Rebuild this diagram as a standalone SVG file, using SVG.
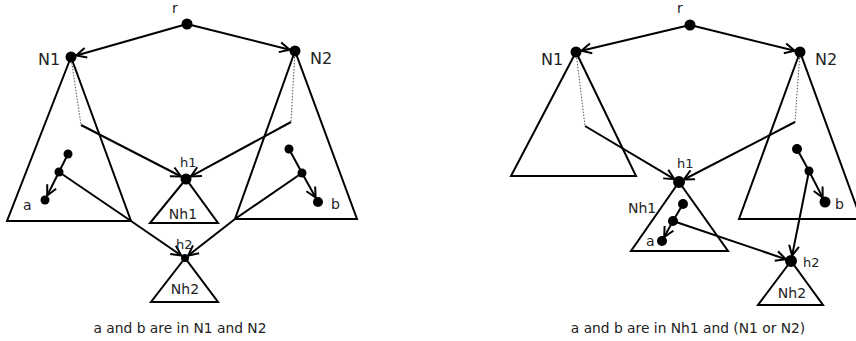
<svg xmlns="http://www.w3.org/2000/svg" width="856" height="341" viewBox="0 0 856 341">
<style>
.t{fill:none;stroke:#000;stroke-width:2;stroke-linejoin:miter}
.e{fill:none;stroke:#000;stroke-width:2}
.a{fill:none;stroke:#000;stroke-width:2;marker-end:url(#arr)}
.d{fill:none;stroke:#555;stroke-width:1;stroke-dasharray:1.5,1.5}
.n{fill:#000}
text{font-family:"DejaVu Sans","Liberation Sans",sans-serif;fill:#222}
.L{font-size:16px}
.M{font-size:14px}
.S{font-size:13px}
.c{font-size:13.8px;text-anchor:middle}
.m{text-anchor:middle}
</style>
<defs>
<marker id="arr" markerUnits="userSpaceOnUse" markerWidth="14" markerHeight="14" viewBox="-12 -7 14 14" refX="0" refY="0" orient="auto" overflow="visible">
<path d="M-10,-5 L0,0 L-10,5" fill="none" stroke="#000" stroke-width="2"/>
</marker>
</defs>

<!-- LEFT DIAGRAM -->
<g id="left-N1-tree"><polygon class="t" points="71,57 7,221 131,221"/></g>
<g id="left-N2-tree"><polygon class="t" points="295,51 235,219 357,219"/></g>
<g id="left-Nh1-tree"><polygon class="t" points="186,179 150,223 218,223"/><text class="M m" x="183" y="219">Nh1</text></g>
<g id="left-Nh2-tree"><polygon class="t" points="185,258 151,302 218,302"/><text class="M m" x="185" y="294">Nh2</text></g>

<g id="left-connectors">
<line class="a" x1="187" y1="24" x2="76.3" y2="55.5"/>
<line class="a" x1="187" y1="24" x2="289.7" y2="49.7"/>
<line class="d" x1="71" y1="57" x2="81" y2="125"/>
<line class="d" x1="295" y1="51" x2="291" y2="122"/>
<line class="a" x1="81" y1="125" x2="181.1" y2="176.5"/>
<line class="a" x1="291" y1="122" x2="190.8" y2="176.4"/>
<line class="e" x1="68" y1="154" x2="59" y2="172"/>
<line class="a" x1="59" y1="172" x2="47.2" y2="195.5"/>
<polyline class="a" points="59,172 131,221 181.3,255.5"/>
<line class="e" x1="289" y1="149" x2="302" y2="173"/>
<line class="a" x1="302" y1="173" x2="315.6" y2="197.6"/>
<polyline class="a" points="302,173 235,219 188.2,255.5"/>
</g>

<g id="left-r"><circle class="n" cx="187" cy="24" r="5.5"/><text class="M" x="172" y="13">r</text></g>
<g id="left-N1"><circle class="n" cx="71" cy="57" r="5.5"/><text class="L" x="38" y="65">N1</text></g>
<g id="left-N2"><circle class="n" cx="295" cy="51" r="5.5"/><text class="L" x="310" y="64">N2</text></g>
<g id="left-h1"><circle class="n" cx="186" cy="179" r="5.5"/><text class="S" x="180" y="167">h1</text></g>
<g id="left-h2"><circle class="n" cx="185" cy="258" r="4"/><text class="S" x="176" y="249">h2</text></g>
<g id="left-x1"><circle class="n" cx="68" cy="154" r="4.5"/></g>
<g id="left-x2"><circle class="n" cx="59" cy="172" r="4.5"/></g>
<g id="left-a"><circle class="n" cx="45" cy="200" r="4.5"/><text class="M" x="23" y="210">a</text></g>
<g id="left-y1"><circle class="n" cx="289" cy="149" r="4.5"/></g>
<g id="left-y2"><circle class="n" cx="302" cy="173" r="4.5"/></g>
<g id="left-b"><circle class="n" cx="318" cy="202" r="5"/><text class="M" x="331" y="209">b</text></g>
<text class="c" x="180" y="333">a and b are in N1 and N2</text>

<!-- RIGHT DIAGRAM -->
<g id="right-N1-tree"><polygon class="t" points="576,52 511,176 636,176"/></g>
<g id="right-N2-tree"><polygon class="t" points="800,52 739,219 861,219"/></g>
<g id="right-Nh1-tree"><polygon class="t" points="679,182 631,251 728,251"/><text class="M" x="628" y="213">Nh1</text></g>
<g id="right-Nh2-tree"><polygon class="t" points="791,261 758,305 823,305"/><text class="M m" x="792" y="298">Nh2</text></g>

<g id="right-connectors">
<line class="a" x1="690" y1="25" x2="581.4" y2="50.7"/>
<line class="a" x1="690" y1="25" x2="794.7" y2="50.7"/>
<line class="d" x1="576" y1="52" x2="585" y2="126"/>
<line class="d" x1="800" y1="52" x2="795" y2="122"/>
<line class="a" x1="585" y1="126" x2="674.3" y2="179.2"/>
<line class="a" x1="795" y1="122" x2="683.9" y2="179.5"/>
<line class="e" x1="683" y1="204" x2="673" y2="221"/>
<line class="a" x1="673" y1="221" x2="664.2" y2="237.1"/>
<line class="a" x1="673" y1="221" x2="785.8" y2="259.2"/>
<line class="e" x1="797" y1="149" x2="809" y2="171"/>
<line class="a" x1="809" y1="171" x2="822.7" y2="197.6"/>
<line class="a" x1="809" y1="171" x2="792.1" y2="255.6"/>
</g>

<g id="right-r"><circle class="n" cx="690" cy="25" r="5.5"/><text class="M" x="677" y="13">r</text></g>
<g id="right-N1"><circle class="n" cx="576" cy="52" r="5.5"/><text class="L" x="541" y="65">N1</text></g>
<g id="right-N2"><circle class="n" cx="800" cy="52" r="5.5"/><text class="L" x="815" y="65">N2</text></g>
<g id="right-h1"><circle class="n" cx="679" cy="182" r="6"/><text class="S" x="677" y="168">h1</text></g>
<g id="right-h2"><circle class="n" cx="791" cy="261" r="6"/><text class="S" x="803" y="267">h2</text></g>
<g id="right-x1"><circle class="n" cx="683" cy="204" r="5"/></g>
<g id="right-x2"><circle class="n" cx="673" cy="221" r="5"/></g>
<g id="right-a"><circle class="n" cx="662" cy="241" r="5"/><text class="M" x="646" y="246">a</text></g>
<g id="right-y1"><circle class="n" cx="797" cy="149" r="5"/></g>
<g id="right-y2"><circle class="n" cx="809" cy="171" r="4.5"/></g>
<g id="right-b"><circle class="n" cx="825" cy="202" r="5.5"/><text class="M" x="835" y="209">b</text></g>
<text class="c" x="688" y="333">a and b are in Nh1 and (N1 or N2)</text>
</svg>
